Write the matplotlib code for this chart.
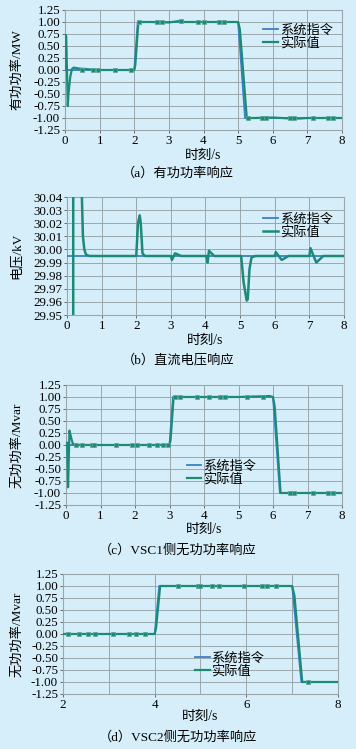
import matplotlib
matplotlib.use("Agg")
import matplotlib.pyplot as plt
from matplotlib.ticker import MultipleLocator

plt.rcParams['font.family'] = ['Liberation Serif', 'Noto Sans CJK SC']
plt.rcParams['axes.unicode_minus'] = True

BG = '#d5eef9'
BLUE = '#3a80c8'
TEAL = '#1d8a78'
GRID = '#9aa6ab'

legend_labels = ['系统指令', '实际值']
xlabel_text = '时刻/s'

# ---------- (a) active power ----------
cmd_a_t = [0, 2.0, 2.1, 5.0, 5.2, 8.0]
cmd_a_v = [0, 0, 1, 1, -1, -1]
act_a_t = [0, 0.02, 0.035, 0.08, 0.1, 0.15, 0.2, 0.25, 0.4, 0.6, 0.9, 1.5, 2.0, 2.03, 2.12, 2.5, 3.0, 3.3, 3.4, 4.0, 5.0, 5.05, 5.25, 5.5, 6.0, 6.5, 6.8, 7.0, 8.0]
act_a_v = [0, 0.73, 0.7, -0.75, -0.5, -0.15, 0.02, 0.05, 0.03, 0.02, 0.0, 0.0, 0.0, 0.1, 1.0, 1.0, 0.99, 1.02, 1.0, 1.0, 1.0, 0.85, -1.0, -1.0, -0.99, -1.01, -1.01, -1.0, -1.0]
mk_a_t = [0.5, 0.8, 0.95, 1.45, 1.9, 2.15, 2.65, 2.8, 3.35, 3.85, 4.0, 4.45, 4.6, 5.28, 5.7, 5.8, 6.5, 6.6, 7.15, 7.6, 7.75]
mk_a_v = [0.0, 0.0, 0.0, 0.0, 0.0, 1.0, 1.0, 1.0, 1.02, 1.0, 1.0, 1.0, 1.0, -1.0, -1.0, -1.0, -1.01, -1.0, -1.0, -1.0, -1.0]

# ---------- (b) DC voltage ----------
cmd_b_t = [0, 8.0]
cmd_b_v = [29.995, 29.995]
act_b_t = [0.18, 0.18, 0.43, 0.46, 0.5, 0.55, 0.65, 2.0, 2.05, 2.1, 2.13, 2.18, 2.25, 3.0, 3.03, 3.12, 3.3,
           4.03, 4.06, 4.1, 4.25, 5.03, 5.1, 5.19, 5.22, 5.27, 5.33, 5.45, 6.0, 6.03, 6.2, 6.4,
           7.0, 7.03, 7.2, 7.4, 8.0]
act_b_v = [29.90, 30.10, 30.04, 30.01, 30.0, 29.996, 29.995, 29.995, 30.02, 30.026, 30.02, 29.997, 29.995, 29.995, 29.992, 29.997, 29.995,
           29.995, 29.990, 29.999, 29.995, 29.995, 29.975, 29.961, 29.962, 29.985, 29.994, 29.995, 29.995, 29.998, 29.992, 29.995,
           29.995, 30.001, 29.990, 29.995, 29.995]

# ---------- (c) VSC1 reactive power ----------
cmd_c_t = [0, 3.0, 3.1, 6.0, 6.2, 8.0]
cmd_c_v = [0, 0, 1, 1, -1, -1]
act_c_t = [0, 0.03, 0.06, 0.1, 0.15, 0.2, 0.3, 1.0, 3.0, 3.03, 3.12, 4.0, 5.0, 5.9, 6.0, 6.05, 6.22, 7.0, 8.0]
act_c_v = [0, 0.05, -0.88, 0.3, 0.15, 0.02, 0.0, 0.0, 0.0, 0.1, 1.0, 1.0, 1.0, 1.02, 1.0, 0.8, -1.0, -1.0, -1.0]
mk_c_t = [0.3, 0.45, 0.75, 0.8, 1.45, 1.9, 2.05, 2.4, 2.65, 2.8, 2.95, 3.15, 3.3, 3.8, 4.15, 4.45, 4.6, 5.25, 5.7, 6.5, 6.6, 7.15, 7.6, 7.75]
mk_c_v = [0.0, 0.0, 0.0, 0.0, 0.0, 0.0, 0.0, 0.0, 0.0, 0.0, 0.0, 1.0, 1.0, 1.0, 1.0, 1.0, 1.0, 1.0, 1.0, -1.0, -1.0, -1.0, -1.0, -1.0]

# ---------- (d) VSC2 reactive power ----------
cmd_d_t = [2.0, 4.0, 4.1, 7.0, 7.2, 8.0]
cmd_d_v = [0, 0, 1, 1, -1, -1]
act_d_t = [2.0, 4.0, 4.03, 4.12, 5.0, 6.0, 6.98, 7.0, 7.05, 7.22, 7.5, 8.0]
act_d_v = [0.0, 0.0, 0.12, 1.0, 1.0, 1.0, 1.0, 1.0, 0.8, -1.0, -1.0, -1.0]
mk_d_t = [2.1, 2.35, 2.55, 2.7, 3.1, 3.45, 3.6, 3.8, 4.5, 4.95, 5.0, 5.25, 5.4, 5.95, 6.35, 6.45, 6.65, 7.35]
mk_d_v = [0.0, 0.0, 0.0, 0.0, 0.0, 0.0, 0.0, 0.0, 1.0, 1.0, 1.0, 1.0, 1.0, 1.0, 1.0, 1.0, 1.0, -1.0]

W, H = 356, 749
fig = plt.figure(figsize=(W / 100, H / 100), dpi=100)
fig.patch.set_facecolor(BG)


def make_ax(l, r, t, b):
    return fig.add_axes([l / W, 1 - b / H, (r - l) / W, (b - t) / H])


def style(ax, ylabel, ylabel_x, xlabel_y):
    ax.set_facecolor(BG)
    ax.grid(True, color=GRID, linewidth=0.7)
    ax.set_axisbelow(True)
    for s in ax.spines.values():
        s.set_color(GRID)
        s.set_linewidth(0.8)
    ax.tick_params(axis='both', labelsize=9.4, length=2, width=0.6, color='#555555', pad=1.5)
    ax.set_ylabel(ylabel, fontsize=9.5)
    ax.yaxis.set_label_coords(ylabel_x, 0.5)
    ax.set_xlabel(xlabel_text, fontsize=9.8)
    ax.xaxis.set_label_coords(0.5, xlabel_y)


def draw(ax, ct, cv, at, av, mt=None, mv=None, lw_a=1.6):
    ax.plot(ct, cv, color=BLUE, lw=1.3, label=legend_labels[0], zorder=3)
    ax.plot(at, av, color=TEAL, lw=lw_a, label=legend_labels[1], zorder=4)
    if mt is not None:
        ax.plot(mt, mv, ls='none', marker='s', ms=2.3, color=TEAL, mec='#5fa596', mew=0.5, zorder=5)


def legend(ax, x, y):
    ax.legend(loc='center left', bbox_to_anchor=(x, y), frameon=False, fontsize=9.5,
              handlelength=1.1, handletextpad=0.15, labelspacing=0.05,
              borderaxespad=0, borderpad=0)


pq_ticks = [-1.25, -1.0, -0.75, -0.5, -0.25, 0, 0.25, 0.5, 0.75, 1.0, 1.25]

# (a)
ax = make_ax(65, 342, 10, 130)
draw(ax, cmd_a_t, cmd_a_v, act_a_t, act_a_v, mk_a_t, mk_a_v)
ax.set_xlim(0, 8)
ax.set_ylim(-1.25, 1.25)
ax.set_yticks(pq_ticks)
ax.yaxis.set_major_formatter(plt.FormatStrFormatter('%.2f'))
ax.xaxis.set_major_locator(MultipleLocator(1))
style(ax, '有功功率/MW', -0.152, -0.155)
legend(ax, 0.715, 0.775)
fig.text(0.5, 1 - 173 / H, '（a）有功功率响应', ha='center', va='center', fontsize=9.5)

# (b)
ax = make_ax(67, 344, 197, 315)
draw(ax, cmd_b_t, cmd_b_v, act_b_t, act_b_v, lw_a=1.8)
ax.set_xlim(0, 8)
ax.set_ylim(29.95, 30.04)
ax.set_yticks([29.95 + 0.01 * i for i in range(10)])
ax.yaxis.set_major_formatter(plt.FormatStrFormatter('%.2f'))
ax.xaxis.set_major_locator(MultipleLocator(1))
style(ax, '电压/kV', -0.159, -0.157)
legend(ax, 0.708, 0.754)
fig.text(0.5, 1 - 360 / H, '（b）直流电压响应', ha='center', va='center', fontsize=9.5)

# (c)
ax = make_ax(66, 342, 385, 505)
draw(ax, cmd_c_t, cmd_c_v, act_c_t, act_c_v, mk_c_t, mk_c_v)
ax.set_xlim(0, 8)
ax.set_ylim(-1.25, 1.25)
ax.set_yticks(pq_ticks)
ax.yaxis.set_major_formatter(plt.FormatStrFormatter('%.2f'))
ax.xaxis.set_major_locator(MultipleLocator(1))
style(ax, '无功功率/Mvar', -0.155, -0.146)
legend(ax, 0.438, 0.267)
fig.text(0.5, 1 - 550 / H, '（c）VSC1侧无功功率响应', ha='center', va='center', fontsize=9.5)

# (d)
ax = make_ax(63, 338, 574, 694)
draw(ax, cmd_d_t, cmd_d_v, act_d_t, act_d_v, mk_d_t, mk_d_v)
ax.set_xlim(2, 8)
ax.set_ylim(-1.25, 1.25)
ax.set_yticks(pq_ticks)
ax.yaxis.set_major_formatter(plt.FormatStrFormatter('%.2f'))
ax.xaxis.set_major_locator(MultipleLocator(2))
ax.xaxis.set_minor_locator(MultipleLocator(1))
style(ax, '无功功率/Mvar', -0.145, -0.129)
ax.tick_params(axis='x', which='minor', length=0)
ax.grid(True, which='minor', axis='x', color=GRID, linewidth=0.7)
legend(ax, 0.48, 0.242)
fig.text(0.5, 1 - 737 / H, '（d）VSC2侧无功功率响应', ha='center', va='center', fontsize=9.5)

fig.savefig('out.png', dpi=100, facecolor=BG)
